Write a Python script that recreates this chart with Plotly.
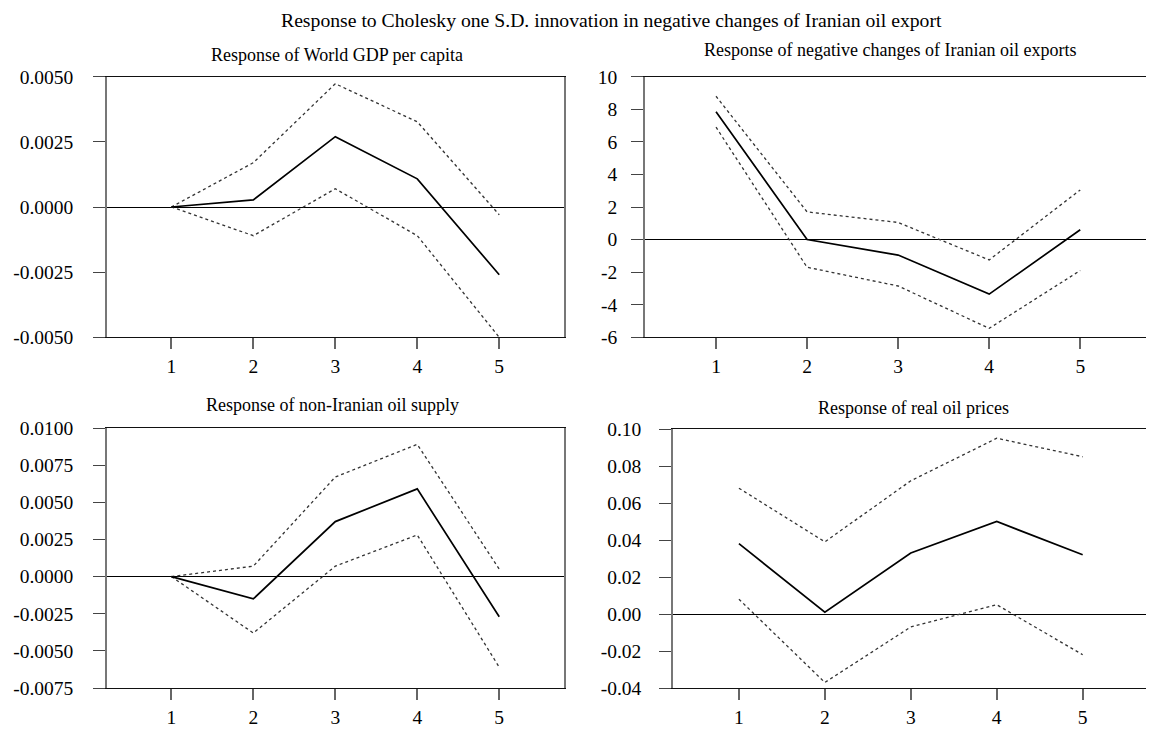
import plotly.graph_objects as go

steps = [1, 2, 3, 4, 5]

gdp_mid = [0.0, 0.00027, 0.0027, 0.00108, -0.0026]
gdp_up = [0.0, 0.0017, 0.00473, 0.00327, -0.0003]
gdp_lo = [0.0, -0.0011, 0.0007, -0.0011, -0.0050]

iran_mid = [7.85, 0.0, -0.95, -3.35, 0.6]
iran_up = [8.8, 1.7, 1.05, -1.25, 3.05]
iran_lo = [6.9, -1.7, -2.85, -5.45, -1.9]

supply_mid = [0.0, -0.0015, 0.0037, 0.0059, -0.0027]
supply_up = [0.0, 0.0007, 0.0067, 0.0089, 0.0005]
supply_lo = [0.0, -0.0038, 0.0007, 0.0028, -0.0061]

price_mid = [0.038, 0.001, 0.033, 0.050, 0.032]
price_up = [0.068, 0.039, 0.072, 0.095, 0.085]
price_lo = [0.008, -0.037, -0.007, 0.005, -0.022]

gdp_ticks = [0.005, 0.0025, 0.0, -0.0025, -0.005]
gdp_labels = ["0.0050", "0.0025", "0.0000", "-0.0025", "-0.0050"]
iran_ticks = [10, 8, 6, 4, 2, 0, -2, -4, -6]
iran_labels = ["10", "8", "6", "4", "2", "0", "-2", "-4", "-6"]
supply_ticks = [0.01, 0.0075, 0.005, 0.0025, 0.0, -0.0025, -0.005, -0.0075]
supply_labels = ["0.0100", "0.0075", "0.0050", "0.0025", "0.0000", "-0.0025", "-0.0050", "-0.0075"]
price_ticks = [0.10, 0.08, 0.06, 0.04, 0.02, 0.0, -0.02, -0.04]
price_labels = ["0.10", "0.08", "0.06", "0.04", "0.02", "0.00", "-0.02", "-0.04"]

titles = ["Response of World GDP per capita",
          "Response of negative changes of Iranian oil exports",
          "Response of non-Iranian oil supply",
          "Response of real oil prices"]
main_title = "Response to Cholesky one S.D. innovation in negative changes of Iranian oil export"

OFF = 8  # page body margin in the browser
W, H = 1154 - OFF, 729 - OFF
FONT = "Liberation Serif"


def fx(x):
    return min(max((x - OFF) / W, 0.0), 1.0)


def fy(y):
    return min(max(1 - (y - OFF) / H, 0.0), 1.0)


panels = [
    dict(mid=gdp_mid, up=gdp_up, lo=gdp_lo, ticks=gdp_ticks, labels=gdp_labels,
         px=(107, 564), py=(76.7, 337.3), xr=(0.215, 5.79), yr=(-0.005, 0.005), right=True,
         so=16, tx=337, ty=55),
    dict(mid=iran_mid, up=iran_up, lo=iran_lo, ticks=iran_ticks, labels=iran_labels,
         px=(645, 1154), py=(76.7, 337.3), xr=(0.22, 5.81), yr=(-6, 10), right=False,
         so=10, tx=890, ty=50),
    dict(mid=supply_mid, up=supply_up, lo=supply_lo, ticks=supply_ticks, labels=supply_labels,
         px=(107, 564), py=(428, 688), xr=(0.215, 5.79), yr=(-0.0075, 0.01), right=True,
         so=16, tx=332, ty=405),
    dict(mid=price_mid, up=price_up, lo=price_lo, ticks=price_ticks, labels=price_labels,
         px=(673, 1154), py=(429, 688), xr=(0.233, 5.83), yr=(-0.04, 0.10), right=False,
         so=14, tx=913, ty=408),
]

fig = go.Figure()
layout = dict(width=W, height=H, margin=dict(l=0, r=0, t=0, b=0, autoexpand=False),
              paper_bgcolor="white", plot_bgcolor="white", showlegend=False,
              font=dict(family=FONT, color="black"))
annotations = []
for i, p in enumerate(panels, start=1):
    xa = "x" if i == 1 else f"x{i}"
    ya = "y" if i == 1 else f"y{i}"
    for series, dash, width, color in [(p["up"], "dot", 1.3, "#333333"),
                                       (p["lo"], "dot", 1.3, "#333333"),
                                       (p["mid"], "solid", 1.7, "black")]:
        fig.add_trace(go.Scatter(x=steps, y=series, mode="lines", xaxis=xa, yaxis=ya,
                                 line=dict(color=color, width=width, dash=dash),
                                 hoverinfo="skip"))
    xkey = "xaxis" if i == 1 else f"xaxis{i}"
    ykey = "yaxis" if i == 1 else f"yaxis{i}"
    layout[xkey] = dict(domain=[fx(p["px"][0]), fx(p["px"][1])],
                        range=list(p["xr"]), anchor=ya, tickvals=steps,
                        ticktext=[str(s) for s in steps], automargin=False,
                        ticks="outside", ticklen=11, tickcolor="#666666", tickwidth=1.5,
                        ticklabelstandoff=0,
                        showline=True, linecolor="#111111", linewidth=1.2, mirror=True,
                        showgrid=False, zeroline=False,
                        tickfont=dict(family=FONT, size=19.5, color="black"))
    layout[ykey] = dict(domain=[fy(p["py"][1]), fy(p["py"][0])],
                        range=list(p["yr"]), anchor=xa, tickvals=p["ticks"],
                        ticktext=p["labels"], automargin=False,
                        ticks="outside", ticklen=12, tickcolor="#444444", tickwidth=1.2,
                        ticklabelstandoff=p["so"],
                        showline=True, linecolor="#777777", linewidth=1.5,
                        mirror=p["right"],
                        showgrid=False, zeroline=True, zerolinecolor="black",
                        zerolinewidth=1,
                        tickfont=dict(family=FONT, size=19.5, color="black"))
    annotations.append(dict(text=titles[i - 1], x=fx(p["tx"]), y=fy(p["ty"]),
                            xref="paper", yref="paper", showarrow=False,
                            xanchor="center", yanchor="middle",
                            font=dict(family=FONT, size=18, color="black")))

annotations.append(dict(text=main_title, x=fx(611), y=1.0, xref="paper", yref="paper",
                        showarrow=False, xanchor="center", yanchor="top", borderpad=0,
                        font=dict(family=FONT, size=19.7, color="black")))
layout["annotations"] = annotations
fig.update_layout(**layout)
fig.write_html("out.html")
